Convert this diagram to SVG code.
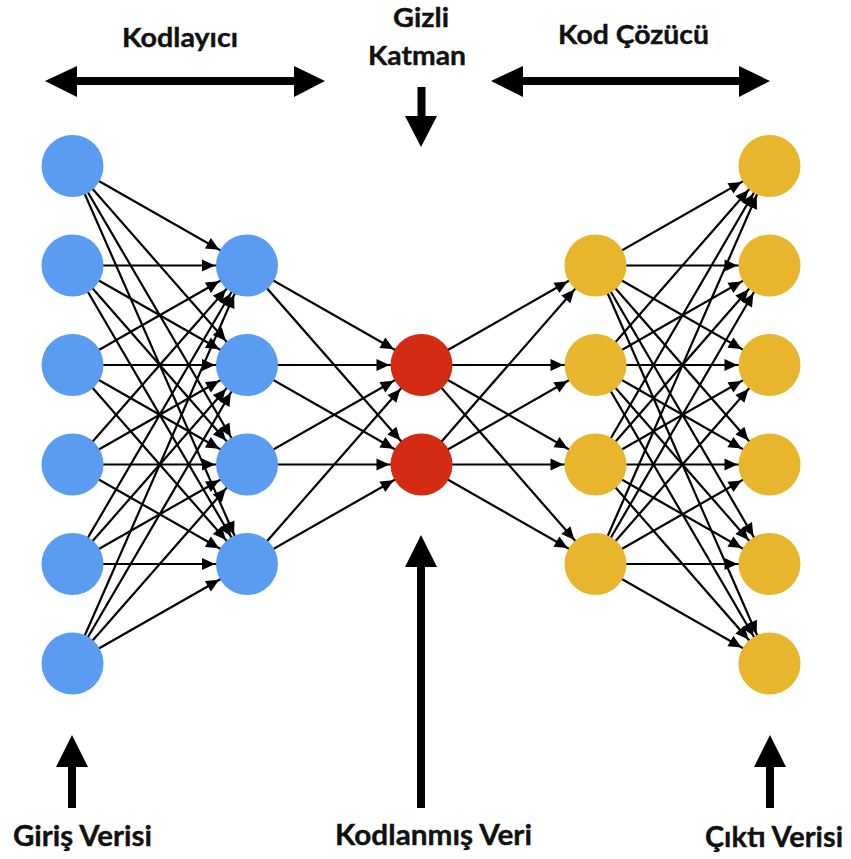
<svg xmlns="http://www.w3.org/2000/svg" width="851" height="859" viewBox="0 0 851 859">
<style>
.t{font-family:Lato,"Open Sans","Liberation Sans",sans-serif;font-weight:bold;fill:#111;stroke:#111;stroke-width:0.4;}
.top{font-size:27px;}
.bot{font-size:29px;}
.e line{stroke:#000;stroke-width:2.2;marker-end:url(#ah);}
.b{fill:#5a9cf2;}
.r{fill:#d32b14;}
.y{fill:#e8b62d;}
.big{fill:#000;}
</style>
<defs>
<marker id="ah" markerUnits="userSpaceOnUse" viewBox="-48 -8 52 16" markerWidth="52" markerHeight="16" refX="0" refY="0" orient="auto" overflow="visible">
<path d="M-32,0 L-45,-6 L-45,6 Z" fill="#000"/>
</marker>
</defs>
<rect width="851" height="859" fill="#fff"/>

<g id="labels">
<text class="t top" x="180" y="46.5" text-anchor="middle" textLength="116" lengthAdjust="spacingAndGlyphs">Kodlayıcı</text>
<text class="t top" x="421" y="26.5" text-anchor="middle" textLength="56" lengthAdjust="spacingAndGlyphs">Gizli</text>
<text class="t top" x="417" y="65" text-anchor="middle" textLength="98" lengthAdjust="spacingAndGlyphs">Katman</text>
<text class="t top" x="633.5" y="43.5" text-anchor="middle" textLength="151" lengthAdjust="spacingAndGlyphs">Kod Çözücü</text>
<text class="t bot" x="82.5" y="846" text-anchor="middle" textLength="139" lengthAdjust="spacingAndGlyphs">Giriş Verisi</text>
<text class="t bot" x="433.5" y="845" text-anchor="middle" textLength="197" lengthAdjust="spacingAndGlyphs">Kodlanmış Veri</text>
<text class="t bot" x="774" y="847" text-anchor="middle" textLength="138" lengthAdjust="spacingAndGlyphs">Çıktı Verisi</text>
</g>

<g id="big-arrows">
<path class="big" d="M45,81 L77,66 L77,77 L294,77 L294,66 L325,81 L294,97 L294,85 L77,85 L77,97 Z"/>
<path class="big" d="M491,81 L523,66 L523,77 L739,77 L739,66 L770,81 L739,97 L739,85 L523,85 L523,97 Z"/>
<path class="big" d="M417.5,87 L425.5,87 L425.5,116 L437,116 L421,147 L405,116 L417.5,116 Z"/>
<path class="big" d="M68,808 L76,808 L76,767 L88,767 L72,735 L56,767 L68,767 Z"/>
<path class="big" d="M417,808 L425,808 L425,567 L437,567 L421,535 L405,567 L417,567 Z"/>
<path class="big" d="M766,808 L774,808 L774,767 L786,767 L770,735 L754,767 L766,767 Z"/>
</g>

<g id="connectors" class="e">
<!-- layer 0 -> layer 1 -->
<line x1="72.5" y1="166" x2="247" y2="265.5"/>
<line x1="72.5" y1="166" x2="247" y2="365"/>
<line x1="72.5" y1="166" x2="247" y2="464.5"/>
<line x1="72.5" y1="166" x2="247" y2="564"/>
<line x1="72.5" y1="265.5" x2="247" y2="265.5"/>
<line x1="72.5" y1="265.5" x2="247" y2="365"/>
<line x1="72.5" y1="265.5" x2="247" y2="464.5"/>
<line x1="72.5" y1="265.5" x2="247" y2="564"/>
<line x1="72.5" y1="365" x2="247" y2="265.5"/>
<line x1="72.5" y1="365" x2="247" y2="365"/>
<line x1="72.5" y1="365" x2="247" y2="464.5"/>
<line x1="72.5" y1="365" x2="247" y2="564"/>
<line x1="72.5" y1="464.5" x2="247" y2="265.5"/>
<line x1="72.5" y1="464.5" x2="247" y2="365"/>
<line x1="72.5" y1="464.5" x2="247" y2="464.5"/>
<line x1="72.5" y1="464.5" x2="247" y2="564"/>
<line x1="72.5" y1="564" x2="247" y2="265.5"/>
<line x1="72.5" y1="564" x2="247" y2="365"/>
<line x1="72.5" y1="564" x2="247" y2="464.5"/>
<line x1="72.5" y1="564" x2="247" y2="564"/>
<line x1="72.5" y1="663.5" x2="247" y2="265.5"/>
<line x1="72.5" y1="663.5" x2="247" y2="365"/>
<line x1="72.5" y1="663.5" x2="247" y2="464.5"/>
<line x1="72.5" y1="663.5" x2="247" y2="564"/>
<!-- layer 1 -> layer 2 -->
<line x1="247" y1="265.5" x2="421.5" y2="365"/>
<line x1="247" y1="265.5" x2="421.5" y2="464.5"/>
<line x1="247" y1="365" x2="421.5" y2="365"/>
<line x1="247" y1="365" x2="421.5" y2="464.5"/>
<line x1="247" y1="464.5" x2="421.5" y2="365"/>
<line x1="247" y1="464.5" x2="421.5" y2="464.5"/>
<line x1="247" y1="564" x2="421.5" y2="365"/>
<line x1="247" y1="564" x2="421.5" y2="464.5"/>
<!-- layer 2 -> layer 3 -->
<line x1="421.5" y1="365" x2="595.5" y2="265.5"/>
<line x1="421.5" y1="365" x2="595.5" y2="365"/>
<line x1="421.5" y1="365" x2="595.5" y2="464.5"/>
<line x1="421.5" y1="365" x2="595.5" y2="564"/>
<line x1="421.5" y1="464.5" x2="595.5" y2="265.5"/>
<line x1="421.5" y1="464.5" x2="595.5" y2="365"/>
<line x1="421.5" y1="464.5" x2="595.5" y2="464.5"/>
<line x1="421.5" y1="464.5" x2="595.5" y2="564"/>
<!-- layer 3 -> layer 4 -->
<line x1="595.5" y1="265.5" x2="769.5" y2="166"/>
<line x1="595.5" y1="265.5" x2="769.5" y2="265.5"/>
<line x1="595.5" y1="265.5" x2="769.5" y2="365"/>
<line x1="595.5" y1="265.5" x2="769.5" y2="464.5"/>
<line x1="595.5" y1="265.5" x2="769.5" y2="564"/>
<line x1="595.5" y1="265.5" x2="769.5" y2="663.5"/>
<line x1="595.5" y1="365" x2="769.5" y2="166"/>
<line x1="595.5" y1="365" x2="769.5" y2="265.5"/>
<line x1="595.5" y1="365" x2="769.5" y2="365"/>
<line x1="595.5" y1="365" x2="769.5" y2="464.5"/>
<line x1="595.5" y1="365" x2="769.5" y2="564"/>
<line x1="595.5" y1="365" x2="769.5" y2="663.5"/>
<line x1="595.5" y1="464.5" x2="769.5" y2="166"/>
<line x1="595.5" y1="464.5" x2="769.5" y2="265.5"/>
<line x1="595.5" y1="464.5" x2="769.5" y2="365"/>
<line x1="595.5" y1="464.5" x2="769.5" y2="464.5"/>
<line x1="595.5" y1="464.5" x2="769.5" y2="564"/>
<line x1="595.5" y1="464.5" x2="769.5" y2="663.5"/>
<line x1="595.5" y1="564" x2="769.5" y2="166"/>
<line x1="595.5" y1="564" x2="769.5" y2="265.5"/>
<line x1="595.5" y1="564" x2="769.5" y2="365"/>
<line x1="595.5" y1="564" x2="769.5" y2="464.5"/>
<line x1="595.5" y1="564" x2="769.5" y2="564"/>
<line x1="595.5" y1="564" x2="769.5" y2="663.5"/>
</g>

<g id="input-layer">
<circle id="in1" class="b" cx="72.5" cy="166" r="31"/>
<circle id="in2" class="b" cx="72.5" cy="265.5" r="31"/>
<circle id="in3" class="b" cx="72.5" cy="365" r="31"/>
<circle id="in4" class="b" cx="72.5" cy="464.5" r="31"/>
<circle id="in5" class="b" cx="72.5" cy="564" r="31"/>
<circle id="in6" class="b" cx="72.5" cy="663.5" r="31"/>
</g>
<g id="encoder-layer">
<circle id="enc1" class="b" cx="247" cy="265.5" r="31"/>
<circle id="enc2" class="b" cx="247" cy="365" r="31"/>
<circle id="enc3" class="b" cx="247" cy="464.5" r="31"/>
<circle id="enc4" class="b" cx="247" cy="564" r="31"/>
</g>
<g id="code-layer">
<circle id="code1" class="r" cx="421.5" cy="365" r="31"/>
<circle id="code2" class="r" cx="421.5" cy="464.5" r="31"/>
</g>
<g id="decoder-layer">
<circle id="dec1" class="y" cx="595.5" cy="265.5" r="31"/>
<circle id="dec2" class="y" cx="595.5" cy="365" r="31"/>
<circle id="dec3" class="y" cx="595.5" cy="464.5" r="31"/>
<circle id="dec4" class="y" cx="595.5" cy="564" r="31"/>
</g>
<g id="output-layer">
<circle id="out1" class="y" cx="769.5" cy="166" r="31"/>
<circle id="out2" class="y" cx="769.5" cy="265.5" r="31"/>
<circle id="out3" class="y" cx="769.5" cy="365" r="31"/>
<circle id="out4" class="y" cx="769.5" cy="464.5" r="31"/>
<circle id="out5" class="y" cx="769.5" cy="564" r="31"/>
<circle id="out6" class="y" cx="769.5" cy="663.5" r="31"/>
</g>
</svg>
